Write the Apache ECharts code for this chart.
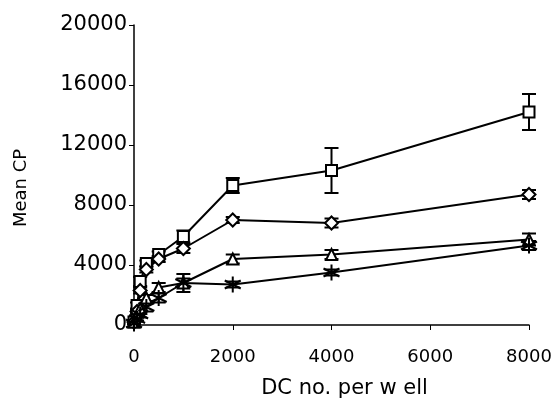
<!DOCTYPE html>
<html>
<head>
<meta charset="utf-8">
<script src="https://cdn.jsdelivr.net/npm/echarts@6/dist/echarts.min.js"></script>
<style>html,body{margin:0;padding:0;background:#fff}#c{width:555px;height:414px}</style>
</head>
<body>
<div id="c"></div>
<script>
var xVals = [0, 62.5, 125, 250, 500, 1000, 2000, 4000, 8000];
var squareVals = [200, 1300, 2900, 4100, 4700, 5900, 9300, 10300, 14200];
var squareErr = [100, 200, 300, 200, 200, 400, 500, 1500, 1200];
var diamondVals = [200, 900, 2300, 3700, 4400, 5100, 7000, 6800, 8700];
var diamondErr = [50, 100, 200, 200, 200, 300, 200, 300, 300];
var triangleVals = [200, 600, 1100, 1800, 2500, 2800, 4400, 4700, 5700];
var triangleErr = [50, 100, 200, 200, 300, 300, 300, 300, 400];
var starVals = [100, 400, 700, 1200, 1800, 2800, 2700, 3500, 5300];
var starErr = [50, 100, 200, 300, 300, 600, 200, 200, 300];
var yTicks = [0, 4000, 8000, 12000, 16000, 20000];
var xTicks = [0, 2000, 4000, 6000, 8000];

var FONT = 'DejaVu Sans';
function pairs(vals) { return xVals.map(function (x, i) { return [x, vals[i]]; }); }
function errData(vals, errs) { return xVals.map(function (x, i) { return [x, vals[i] - errs[i], vals[i] + errs[i]]; }); }

function errSeries(vals, errs) {
  return {
    type: 'custom',
    data: errData(vals, errs),
    z: 1,
    renderItem: function (params, api) {
      var x = api.value(0);
      var lo = api.coord([x, api.value(1)]);
      var hi = api.coord([x, api.value(2)]);
      var w = 7;
      var st = { stroke: '#000', lineWidth: 2 };
      return {
        type: 'group',
        children: [
          { type: 'line', shape: { x1: lo[0], y1: lo[1], x2: hi[0], y2: hi[1] }, style: st },
          { type: 'line', shape: { x1: lo[0] - w, y1: lo[1], x2: lo[0] + w, y2: lo[1] }, style: st },
          { type: 'line', shape: { x1: hi[0] - w, y1: hi[1], x2: hi[0] + w, y2: hi[1] }, style: st }
        ]
      };
    }
  };
}

function lineSeries(name, vals, symbol, size) {
  return {
    name: name,
    type: 'line',
    data: pairs(vals),
    symbol: symbol,
    symbolSize: size,
    showAllSymbol: true,
    z: 3,
    lineStyle: { color: '#000', width: 2 },
    itemStyle: { color: '#fff', borderColor: '#000', borderWidth: 2 },
    emphasis: { disabled: true }
  };
}

var starPath = 'path://M0,-10L0,10M-9,-5L9,5M-9,5L9,-5';
function plain(v) { return String(v); }

var chart = echarts.init(document.getElementById('c'), null, { renderer: 'canvas' });
chart.setOption({
  animation: false,
  backgroundColor: '#fff',
  grid: { left: 134, top: 25, width: 395, height: 300 },
  xAxis: {
    type: 'value', min: xTicks[0], max: xTicks[xTicks.length - 1], interval: 2000,
    offset: 3,
    name: 'DC no. per w ell', nameLocation: 'middle', nameGap: 50,
    nameTextStyle: { fontFamily: FONT, fontSize: 21, color: '#000', padding: [0, 0, 0, 26] },
    axisLine: { lineStyle: { color: '#000', width: 1.5 } },
    axisTick: { show: true, length: 5, lineStyle: { color: '#000' } },
    axisLabel: { fontFamily: FONT, fontSize: 18, color: '#000', margin: 20, formatter: plain },
    splitLine: { show: false }
  },
  yAxis: {
    type: 'value', min: yTicks[0], max: yTicks[yTicks.length - 1], interval: 4000,
    name: 'Mean CP', nameLocation: 'middle', nameGap: 104,
    nameTextStyle: { fontFamily: FONT, fontSize: 18, color: '#000', padding: [0, 26, 0, 0] },
    axisLine: { show: true, lineStyle: { color: '#000', width: 1.5 } },
    axisTick: { show: true, length: 5, lineStyle: { color: '#000' } },
    axisLabel: { fontFamily: FONT, fontSize: 21, color: '#000', margin: 7, formatter: plain },
    splitLine: { show: false }
  },
  series: [
    errSeries(squareVals, squareErr),
    errSeries(diamondVals, diamondErr),
    errSeries(triangleVals, triangleErr),
    errSeries(starVals, starErr),
    lineSeries('square', squareVals, 'rect', 11),
    lineSeries('diamond', diamondVals, 'diamond', 13),
    lineSeries('triangle', triangleVals, 'triangle', 11),
    lineSeries('star', starVals, starPath, 16)
  ]
});
</script>
</body>
</html>
